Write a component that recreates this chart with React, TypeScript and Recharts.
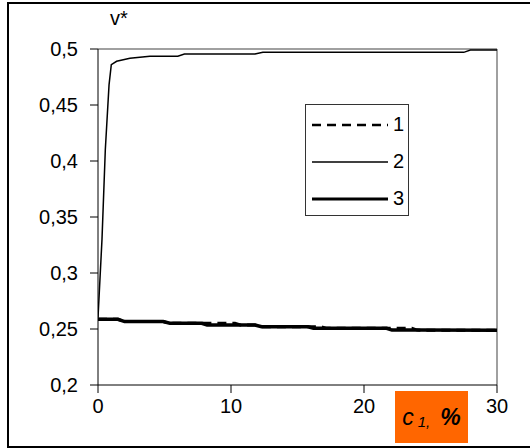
import React from "react";
import { LineChart, Line, XAxis, YAxis, ReferenceLine } from "recharts";

// c1, % for curve 2 (sharp rise then plateau near 0.5)
const c2 = [0, 0.3, 0.55, 0.83, 1.0, 1.4, 2.4, 3.9, 6.0, 6.5, 11.8, 12.4, 27.5, 28, 30];
const v2 = [0.26, 0.33, 0.41, 0.468, 0.486, 0.489, 0.4917, 0.4935, 0.4935, 0.4955, 0.4955, 0.497, 0.497, 0.499, 0.499];

// c1, % shared by curves 1 and 3 (slow decline near 0.25)
const cLow = [0, 1.5, 2, 4.9, 5.4, 7.8, 8.2, 10.3, 10.7, 11.8, 12.3, 15.8, 16.2, 16.8, 17.2, 21.7, 22.1, 23.6, 24, 30];
const v1 = [0.2587, 0.2587, 0.2566, 0.2566, 0.2551, 0.2551, 0.2551, 0.2551, 0.2536, 0.2536, 0.252, 0.252, 0.252, 0.252, 0.2506, 0.2506, 0.2506, 0.2506, 0.249, 0.2488];
const v3 = [0.2587, 0.2587, 0.2566, 0.2566, 0.2551, 0.2551, 0.2536, 0.2536, 0.2536, 0.2536, 0.252, 0.252, 0.2506, 0.2506, 0.2506, 0.2506, 0.249, 0.249, 0.249, 0.2488];

const xTicks = [0, 10, 20, 30];
const yTicks = [0.2, 0.25, 0.3, 0.35, 0.4, 0.45, 0.5];
const seriesNames = ["1", "2", "3"];

const FONT = '"Liberation Sans", Arial, sans-serif';

const data2 = c2.map((c, i) => ({ c, v: v2[i] }));
const data1 = cLow.map((c, i) => ({ c, v: v1[i] }));
const data3 = cLow.map((c, i) => ({ c, v: v3[i] }));

function LegendBox() {
  const styles = [
    { w: 2.5, dash: "9 6" },
    { w: 1.5, dash: undefined },
    { w: 3, dash: undefined },
  ];
  return (
    <div
      style={{
        position: "absolute",
        left: 305,
        top: 104,
        width: 104,
        height: 112,
        border: "1px solid #333",
        background: "#fff",
        boxSizing: "border-box",
        fontFamily: FONT,
        fontSize: 20,
      }}
    >
      {seriesNames.map((name, i) => (
        <div key={name} style={{ display: "flex", alignItems: "center", height: 37, marginTop: i === 0 ? 1 : 0 }}>
          <svg width={80} height={10} style={{ marginLeft: 6 }}>
            <line x1={0} y1={5} x2={76} y2={5} stroke="#000" strokeWidth={styles[i].w} strokeDasharray={styles[i].dash} />
          </svg>
          <span style={{ marginLeft: 1 }}>{name}</span>
        </div>
      ))}
    </div>
  );
}

export default function App() {
  return (
    <div style={{ position: "absolute", left: 0, top: 0, width: 530, height: 448, overflow: "hidden", background: "#fff" }}>
      <div
        style={{
          position: "absolute",
          left: 7,
          top: 2,
          width: 540,
          height: 446,
          border: "2px solid #000",
          boxSizing: "border-box",
        }}
      />
      <LineChart
        width={530}
        height={448}
        margin={{ top: 49, right: 33, bottom: 33, left: 0 }}
        style={{ position: "absolute", left: 0, top: 0 }}
      >
        <XAxis
          type="number"
          dataKey="c"
          domain={[0, 30]}
          ticks={xTicks}
          height={30}
          tickSize={8}
          tickMargin={6}
          axisLine={{ stroke: "#000", strokeWidth: 1 }}
          tickLine={{ stroke: "#000" }}
          tick={{ fontSize: 20, fill: "#000", fontFamily: FONT }}
          allowDataOverflow
        />
        <YAxis
          type="number"
          domain={[0.2, 0.5]}
          ticks={yTicks}
          width={98}
          tickSize={8}
          tickMargin={12}
          axisLine={{ stroke: "#000", strokeWidth: 1 }}
          tickLine={{ stroke: "#000" }}
          tick={{ fontSize: 20, fill: "#000", fontFamily: FONT }}
          tickFormatter={(v: number) => String(v).replace(".", ",")}
          allowDataOverflow
        />
        <ReferenceLine y={0.5} stroke="#808080" strokeWidth={1.5} />
        <ReferenceLine x={30} stroke="#808080" strokeWidth={1.5} />
        <Line data={data1} dataKey="v" name="1" type="linear" stroke="#000" strokeWidth={3} strokeDasharray="9 6" dot={false} isAnimationActive={false} />
        <Line data={data3} dataKey="v" name="3" type="linear" stroke="#000" strokeWidth={3.5} dot={false} isAnimationActive={false} />
        <Line data={data2} dataKey="v" name="2" type="linear" stroke="#000" strokeWidth={1.5} dot={false} isAnimationActive={false} />
      </LineChart>
      <LegendBox />
      <div style={{ position: "absolute", left: 110, top: 7, fontFamily: FONT, fontSize: 20, color: "#000" }}>v*</div>
      <div
        style={{
          position: "absolute",
          left: 395,
          top: 391,
          width: 73,
          height: 52,
          background: "#FF6600",
          fontFamily: FONT,
          color: "#000",
          fontStyle: "italic",
          display: "flex",
          alignItems: "center",
          justifyContent: "center",
        }}
      >
        <span style={{ fontSize: 23 }}>c</span>
        <span style={{ fontSize: 15, marginLeft: 4, marginTop: 8 }}>1,</span>
        <span style={{ fontSize: 23, marginLeft: 10, fontWeight: 600 }}>%</span>
      </div>
    </div>
  );
}
